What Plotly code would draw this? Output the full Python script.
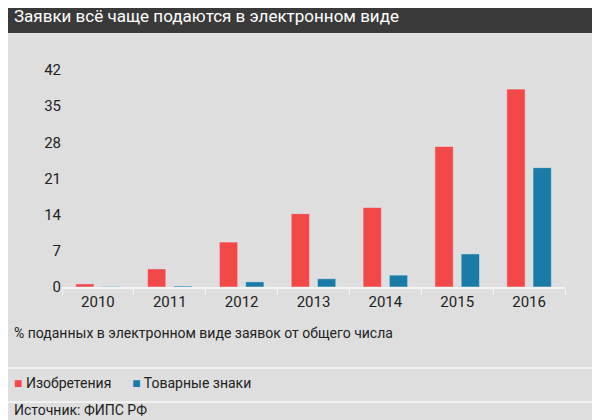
import plotly.graph_objects as go

years = ["2010", "2011", "2012", "2013", "2014", "2015", "2016"]
inventions = [0.6, 3.5, 8.7, 14.2, 15.4, 27.2, 38.3]
trademarks = [0.1, 0.2, 1.0, 1.6, 2.3, 6.4, 23.1]
y_ticks = [0, 7, 14, 21, 28, 35, 42]

FONT = "Roboto, sans-serif"
BG = "#dedede"

fig = go.Figure()
fig.add_trace(go.Bar(x=years, y=inventions, name="Изобретения", marker_color="#f24848"))
fig.add_trace(go.Bar(x=years, y=trademarks, name="Товарные знаки", marker_color="#1a7ba6"))

fig.update_layout(
    width=600, height=420,
    paper_bgcolor=BG, plot_bgcolor=BG,
    font=dict(family=FONT, size=14, color="#222"),
    margin=dict(l=54, r=43, t=62, b=141),
    bargap=0.27, bargroupgap=0.3,
    showlegend=False,
    xaxis=dict(showline=True, linecolor="#f4f4f4", linewidth=2,
               ticks="outside", tickcolor="#f4f4f4", ticklen=6,
               tickson="boundaries", tickfont=dict(size=15)),
    yaxis=dict(range=[0, 42], tickvals=y_ticks, showgrid=False,
               zeroline=False, ticks="", tickfont=dict(size=15)),
    shapes=[
        dict(type="rect", xref="paper", yref="paper", x0=-0.2, x1=1.2, y0=1.17, y1=1.4,
             fillcolor="#3a3a3a", line_width=0, layer="below"),
        dict(type="line", xref="paper", yref="paper", x0=-0.2, x1=1.2, y0=-0.373, y1=-0.373,
             line=dict(color="#f8f8f8", width=1.5)),
        dict(type="line", xref="paper", yref="paper", x0=-0.2, x1=1.2, y0=-0.530, y1=-0.530,
             line=dict(color="#f8f8f8", width=1.5)),
    ],
)

fig.add_annotation(text="Заявки всё чаще подаются в электронном виде", xref="paper", yref="paper",
                   x=-0.1, y=1.249, xanchor="left", yanchor="middle", showarrow=False,
                   font=dict(size=17, color="white"))
fig.add_annotation(text="% поданных в электронном виде заявок от общего числа", xref="paper",
                   yref="paper", x=-0.1, y=-0.212, xanchor="left", yanchor="middle",
                   showarrow=False, font=dict(size=14))
fig.add_annotation(text="<span style='color:#f24848'>■</span> Изобретения      "
                        "<span style='color:#1a7ba6'>■</span> Товарные знаки",
                   xref="paper", yref="paper", x=-0.1, y=-0.442, xanchor="left",
                   yanchor="middle", showarrow=False, font=dict(size=14))
fig.add_annotation(text="Источник: ФИПС РФ", xref="paper", yref="paper", x=-0.1, y=-0.565,
                   xanchor="left", yanchor="middle", showarrow=False, font=dict(size=14))

fig.write_html("out.html")
